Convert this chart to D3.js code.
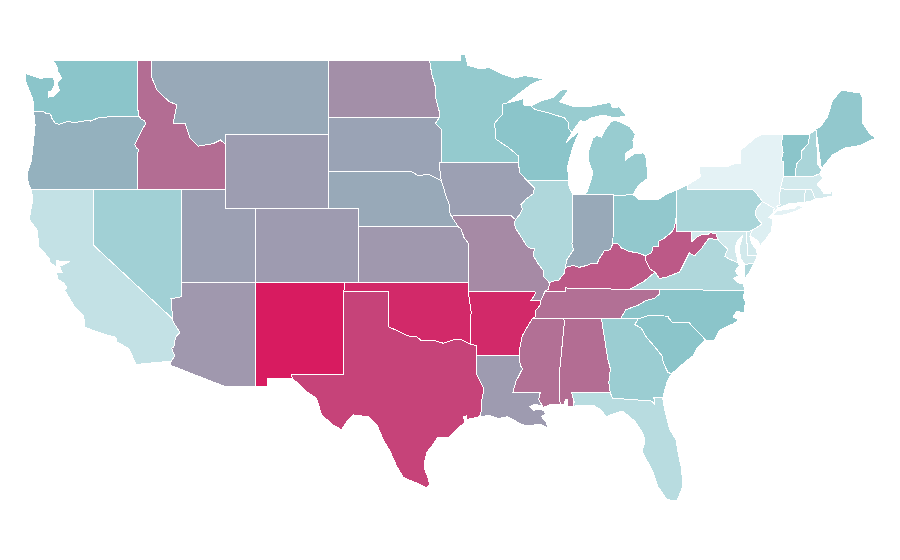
<!DOCTYPE html>
<html><head><meta charset="utf-8">
<script src="https://cdn.jsdelivr.net/npm/d3@7"></script>
<style>html,body{margin:0;background:#fff}svg{display:block}</style></head>
<body><svg id="map" width="900" height="560"></svg>
<script>
// state values (colour scale input)
const stateNames=["WA","OR","CA","NV","ID","MT","WY","UT","AZ","NM","CO","ND","SD","NE","KS","OK","TX","MN","IA","MO","AR","LA","WI","IL","MI","IN","OH","KY","TN","MS","AL","GA","FL","SC","NC","VA","WV","PA","NY","NJ","DE","MD","CT","RI","MA","VT","NH","ME"];
const stateValues=[40,47,15,30,71,50,54,53,56,100,55,59,52,50,56,95,86,36,53,61,95,55,40,24,34,50,37,78,70,70,71,33,20,40,40,24,78,26,0,3,8,8,9,9,7,40,26,37];
const colorDomain=[0,40,100];
const colorRange=["#e4f2f5","#8bc5ca","#d81b60"];
// shared borders, [lon,lat]
const wa_or=[[-124.05,46.27],[-123.5,46.27],[-123.2,46.15],[-122.9,46.1],[-122.8,45.85],[-122.6,45.62],[-122.3,45.55],[-121.8,45.7],[-121.2,45.65],[-120.6,45.74],[-120.2,45.73],[-119.6,45.92],[-119.1,45.93],[-118.98,46],[-116.92,46]];
const wa_id=[[-117.04,49],[-117.04,46.42],[-116.92,46.17],[-116.92,46]];
const waCoast=[[-124.05,46.27],[-124.1,46.9],[-124.35,47.4],[-124.6,47.9],[-124.63,48.32],[-123.62,48.05],[-123.05,48.08],[-122.7,48.12],[-122.62,47.7],[-122.85,47.35],[-123.07,47.3],[-123.07,47.03],[-122.7,47.05],[-122.3,47.4],[-122.45,47.7],[-122.4,47.85],[-122.15,48.05],[-122.4,48.4],[-122.5,48.75],[-122.76,49]];
const or_id=[[-116.92,46],[-116.78,45.85],[-116.55,45.75],[-116.46,45.6],[-116.67,45.3],[-116.85,45],[-117.2,44.45],[-117.05,44.23],[-116.95,44.2],[-117.03,43.83],[-117.03,42]];
const orCoast=[[-124.2,42],[-124.4,42.3],[-124.5,42.85],[-124.2,43.6],[-124.05,44.7],[-123.95,45.5],[-124.05,46.27]];
const mt_id=[[-116.05,49],[-116.05,48.1],[-115.7,47.4],[-114.9,46.8],[-114.36,46.6],[-114.6,45.6],[-113.8,45.6],[-113.45,44.8],[-112.9,44.37],[-111.9,44.5],[-111.4,44.7],[-111.05,44.47]];
const nd_mn=[[-97.23,49],[-97.1,48.3],[-96.85,47.6],[-96.8,46.9],[-96.6,46.3],[-96.56,45.94]];
const sd_mn=[[-96.56,45.94],[-96.85,45.6],[-96.45,45.3],[-96.45,43.5]];
const sd_ia=[[-96.45,43.5],[-96.6,43.5],[-96.45,42.49]];
const ne_sd=[[-104.05,43],[-98.5,43],[-98,42.77],[-97.3,42.85],[-96.7,42.6],[-96.45,42.49]];
const ne_ia=[[-96.45,42.49],[-96.25,42],[-96.1,41.6],[-95.9,41.2],[-95.85,40.7],[-95.77,40.58]];
const ne_mo=[[-95.77,40.58],[-95.3,40]];
const ia_mo=[[-95.77,40.58],[-91.73,40.61],[-91.42,40.38]];
const ia_wi=[[-91.22,43.5],[-91.15,42.95],[-90.65,42.51]];
const ia_il=[[-90.65,42.51],[-90.15,42.12],[-90.2,41.8],[-90.7,41.5],[-91.05,41.2],[-90.95,40.95],[-91.1,40.7],[-91.42,40.38]];
const mn_top=[[-97.23,49],[-95.15,49],[-95.15,49.38],[-94.82,49.3],[-94.65,48.75],[-93.8,48.55],[-93.2,48.63],[-92.4,48.3],[-91.5,48.05],[-90.8,48.2],[-89.5,48],[-90.3,47.75],[-91.2,47.2],[-92,46.7]];
const mn_wi=[[-92,46.7],[-92.3,46.65],[-92.3,46.1],[-92.85,45.6],[-92.75,45],[-92.75,44.75],[-92.2,44.45],[-91.9,44.3],[-91.25,43.85],[-91.22,43.5]];
const mo_il=[[-91.42,40.38],[-91.5,40.2],[-91.4,39.9],[-91,39.4],[-90.7,39],[-90.55,38.87],[-90.15,38.8],[-90.2,38.4],[-89.85,37.95],[-89.5,37.6],[-89.5,37.3],[-89.15,36.98]];
const mo_ky=[[-89.15,36.98],[-89.1,36.95],[-89.2,36.6],[-89.42,36.5]];
const mo_tn=[[-89.42,36.5],[-89.7,36]];
const mo_ar=[[-89.7,36],[-90.37,36],[-90.05,36.4],[-90.15,36.5],[-94.62,36.5]];
const ks_mo=[[-94.62,37],[-94.62,39.1],[-94.9,39.4],[-95.1,39.87],[-95.3,40]];
const ok_ar=[[-94.62,36.5],[-94.43,35.4],[-94.48,33.64]];
const ok_tx=[[-100,34.56],[-99.36,34.35],[-98.7,34.08],[-98.1,34.04],[-97.8,33.82],[-97,33.86],[-96.3,33.68],[-95.63,33.86],[-95.07,33.86],[-94.48,33.64]];
const ar_tn=[[-89.7,36],[-89.7,35.8],[-90.1,35.4],[-90.1,35.1],[-90.3,35]];
const ar_ms=[[-90.3,35],[-90.6,34.6],[-90.95,34.1],[-91.1,33.6],[-91.17,33]];
const tx_ar=[[-94.48,33.64],[-94.04,33.55],[-94.04,33.02]];
const tx_la=[[-94.04,33.02],[-94.04,32],[-93.8,31.6],[-93.55,31.2],[-93.7,30.6],[-93.7,30.1],[-93.85,29.7]];
const txCoast=[[-93.85,29.7],[-94.7,29.55],[-94.75,29.75],[-94.95,29.7],[-94.85,29.4],[-95.2,29.15],[-96,28.55],[-96.67,28.6],[-97.1,28.1],[-97.4,27.8],[-97.55,27.35],[-97.55,26.8],[-97.3,26.3],[-97.25,26],[-97.43,25.85],[-98.1,26.1],[-99,26.4],[-99.46,27],[-99.9,27.8],[-100.37,28.45],[-100.8,29.25],[-101.4,29.7],[-102.4,29.8],[-102.85,29.43],[-103.2,29],[-103.77,29.25],[-104.55,29.8],[-104.9,30.7],[-105.56,31.05],[-106,31.4],[-106.53,31.78],[-106.62,32]];
const la_ms=[[-91.17,33],[-91.1,32.5],[-90.95,32.3],[-91.4,31.6],[-91.6,31],[-89.75,31],[-89.85,30.65],[-89.55,30.2]];
const laCoast=[[-93.85,29.7],[-93.2,29.77],[-92.6,29.6],[-92,29.7],[-91.6,29.55],[-91.2,29.36],[-90.7,29.2],[-90.2,29.25],[-89.8,29.3],[-89.2,29.1],[-89.35,29.4],[-89.65,29.7],[-89.4,29.85],[-89.5,30.05],[-89.85,30.1],[-90.2,30.05],[-90.45,30.25],[-90.1,30.38],[-89.75,30.3],[-89.55,30.2]];
const msCoast=[[-89.55,30.2],[-89,30.38],[-88.4,30.35]];
const ms_al=[[-88.2,35],[-88.1,34.9],[-88.47,31.9],[-88.4,30.35]];
const alCoast=[[-87.52,30.28],[-87.9,30.25],[-87.9,30.65],[-88.05,30.65],[-88.1,30.4],[-88.4,30.35]];
const al_fl=[[-87.52,30.28],[-87.45,30.5],[-87.62,31],[-85,31]];
const al_ga=[[-85,31],[-85.1,31.55],[-85,32.3],[-85.18,32.87],[-85.6,35]];
const ga_sc=[[-83.11,35],[-83.35,34.7],[-82.9,34.5],[-82.55,34],[-82,33.5],[-81.5,33],[-81.4,32.6],[-81.1,32.1],[-80.85,32.03]];
const gaCoast=[[-80.85,32.03],[-81.15,31.6],[-81.3,31.2],[-81.45,30.72]];
const ga_fl=[[-81.45,30.72],[-82.05,30.75],[-82,30.37],[-82.2,30.55],[-84.86,30.71],[-85,31]];
const flCoast=[[-81.45,30.72],[-81.3,30],[-80.98,29],[-80.55,28.45],[-80.35,27.5],[-80.17,26.85],[-80.1,25.9],[-80.3,25.5],[-80.5,25.15],[-81.15,25.2],[-81.77,25.9],[-82.1,26.7],[-82.3,27],[-82.85,27.8],[-82.65,28.4],[-82.8,28.8],[-83.33,29.45],[-84.15,30],[-84.35,29.98],[-85.3,29.7],[-85.6,30.05],[-86.1,30.3],[-87.52,30.28]];
const sc_nc=[[-83.11,35],[-82.4,35.2],[-81.05,35.15],[-81.05,35.05],[-80.8,34.82],[-79.67,34.8],[-78.55,33.86]];
const scCoast=[[-78.55,33.86],[-79.1,33.45],[-79.4,33],[-79.9,32.7],[-80.45,32.3],[-80.85,32.03]];
const ncCoast=[[-75.87,36.55],[-76,36.2],[-75.85,35.95],[-75.95,35.35],[-76.45,35.4],[-76.7,35.1],[-76.3,34.95],[-76.65,34.75],[-77.6,34.4],[-77.95,33.85],[-78.55,33.86]];
const tn_nc=[[-81.68,36.59],[-81.7,36.33],[-82.05,36.1],[-82.6,36],[-83.1,35.75],[-83.95,35.5],[-84.32,35]];
const tn_ky=[[-89.42,36.5],[-88.05,36.5],[-88.05,36.68],[-83.68,36.6]];
const ky_il=[[-89.15,36.98],[-88.6,37.1],[-88.5,37.1],[-88.1,37.5],[-88.05,37.8]];
const ky_in=[[-88.05,37.8],[-87.5,37.9],[-87.1,37.8],[-86.6,37.9],[-86.3,38],[-85.9,38],[-85.75,38.27],[-85.4,38.7],[-85,38.75],[-84.83,39.1]];
const ky_oh=[[-84.83,39.1],[-84.5,39.1],[-84.25,38.85],[-83.7,38.65],[-83.2,38.6],[-82.6,38.42]];
const ky_wv=[[-82.6,38.42],[-82.6,38.15],[-82.3,37.7],[-81.97,37.54]];
const ky_va=[[-81.97,37.54],[-82.7,37.05],[-83.68,36.6]];
const il_in=[[-87.53,41.72],[-87.53,39.35],[-87.6,39.1],[-87.5,38.75],[-87.95,38.2],[-88.05,37.8]];
const in_oh=[[-84.8,41.7],[-84.82,39.1],[-84.83,39.1]];
const oh_wv=[[-80.52,40.64],[-80.65,40],[-80.85,39.7],[-81.4,39.35],[-81.75,39.2],[-81.75,38.95],[-82.1,38.95],[-82.2,38.6],[-82.6,38.42]];
const ohLake=[[-83.45,41.73],[-83,41.45],[-82.7,41.45],[-82,41.5],[-81.7,41.5],[-81.2,41.77],[-80.52,41.98]];
const wv_md=[[-79.48,39.72],[-79.48,39.2],[-79.1,39.45],[-78.75,39.6],[-78.45,39.55],[-78.2,39.68],[-77.85,39.6],[-77.72,39.32]];
const va_wv=[[-81.97,37.54],[-81.68,37.2],[-81.25,37.25],[-80.3,37.55],[-79.65,38.58],[-79.3,38.42],[-78.85,38.8],[-78.35,39.35],[-77.72,39.32]];
const va_md=[[-77.72,39.32],[-77.5,39.1],[-77.05,38.8],[-77.25,38.4],[-76.95,38.25],[-76.35,38.05]];
const vaCoast=[[-76.35,38.05],[-76.25,37.9],[-76.55,37.6],[-76.3,37.35],[-76.65,37.2],[-76.3,36.95],[-76,36.9],[-75.87,36.55]];
const vaShore=[[-75.25,38.03],[-75.9,37.95],[-75.95,37.15],[-75.6,37.5]];
const mdEast=[[-75.05,38.45],[-75.25,38.03],[-75.9,37.95],[-76.2,38.3],[-76.25,38.9],[-76.05,39.5],[-76.4,39.25],[-76.55,38.8],[-76.4,38.3],[-76.35,38.05]];
const deCoast=[[-75.41,39.8],[-75.55,39.45],[-75.4,39.05],[-75.1,38.78],[-75.05,38.45]];
const pa_ny=[[-75.35,42],[-75.05,41.75],[-74.7,41.36]];
const pa_nj=[[-74.7,41.36],[-75.1,41],[-75.2,40.7],[-75.05,40.45],[-74.72,40.15],[-75.1,39.95],[-75.41,39.8]];
const njCoast=[[-74.7,41.36],[-73.9,41],[-74,40.7],[-74.25,40.5],[-74,40.4],[-74.1,39.75],[-74.5,39.3],[-74.9,38.93],[-74.95,39.2],[-75.5,39.5],[-75.55,39.65],[-75.41,39.8]];
const nyLake=[[-79.76,42.27],[-78.9,42.7],[-79,43.25],[-77.7,43.25],[-77,43.28],[-76.5,43.45],[-76.2,43.45],[-76.2,44.15],[-75.8,44.4],[-75.1,44.87],[-74.7,45],[-73.34,45.01]];
const ny_vt=[[-73.34,45.01],[-73.4,44.5],[-73.3,44],[-73.43,43.6],[-73.25,43.5],[-73.27,42.75]];
const ny_ct=[[-73.5,42.05],[-73.55,41.3],[-73.48,41.2],[-73.73,41.1],[-73.65,41]];
const longIsland=[[-74,40.6],[-73.75,40.85],[-73.1,40.95],[-72.6,40.98],[-72.3,41.15],[-71.9,41.07],[-72.5,40.82],[-73.3,40.63]];
const vt_nh=[[-71.5,45.01],[-71.6,44.5],[-72.05,44.1],[-72.05,43.7],[-72.4,43.4],[-72.45,43],[-72.46,42.73]];
const nh_me=[[-71.08,45.3],[-70.95,43.6],[-70.98,43.4],[-70.7,43.08]];
const nh_ma=[[-70.82,42.87],[-71.25,42.74],[-72.46,42.73]];
const meCoast=[[-71.08,45.3],[-70.8,45.4],[-70.3,45.95],[-69.95,46.87],[-69.33,47.4],[-68.1,47.25],[-67.9,46.98],[-67.9,45.6],[-67.45,45.06],[-67.05,44.8],[-68.1,44.4],[-69.1,44.27],[-69.95,43.9],[-70.25,43.6],[-70.6,43.24],[-70.7,43.08]];
const maCoast=[[-70.82,42.87],[-70.6,42.65],[-71,42.3],[-70.65,41.95],[-70.55,41.78],[-70.1,41.78],[-70,42.05],[-69.95,41.67],[-70.65,41.55],[-71.12,41.5]];
const ma_ri=[[-71.12,41.5],[-71.2,41.67],[-71.38,42.02],[-71.8,42.02]];
const riCoast=[[-71.12,41.5],[-71.5,41.37],[-71.86,41.32],[-71.8,42.02]];
const ctCoast=[[-71.86,41.32],[-72.9,41.25],[-73.65,41]];
const wiLake=[[-92,46.7],[-91.2,46.87],[-90.9,46.95],[-90.85,46.6],[-90.4,46.55]];
const wi_mi=[[-90.4,46.55],[-90.1,46.35],[-89.1,46.15],[-88.1,45.9],[-87.8,45.6],[-87.85,45.35],[-87.6,45.1]];
const wiCoast=[[-87.6,45.1],[-88,44.55],[-87.05,45.25],[-87.5,44.4],[-87.75,43.7],[-87.9,43.2],[-87.8,42.49]];
const miUpper=[[-90.4,46.55],[-89.6,46.85],[-88.9,47],[-88.4,47.4],[-87.8,47.45],[-88.2,47],[-88.45,46.78],[-87.4,46.5],[-86.5,46.5],[-85,46.75],[-84.85,46.45],[-84.4,46.5],[-84.1,46.2],[-83.9,46],[-84.7,45.9],[-85.5,46.05],[-86.3,45.9],[-86.7,45.7],[-87.05,45.75],[-87.6,45.1]];
const miLower=[[-86.85,41.76],[-86.6,41.85],[-86.17,42.9],[-86.5,43.6],[-86.5,44],[-86.17,44.8],[-85.9,44.95],[-85.6,44.85],[-85.35,45.25],[-85,45.65],[-84.75,45.78],[-84.2,45.63],[-83.67,45.4],[-83.3,45],[-83.47,44.7],[-83.4,44.3],[-84,43.95],[-84,43.6],[-83.4,43.95],[-82.8,44],[-82.6,43.85],[-82.47,42.9],[-82.5,42.6],[-83.1,42.25],[-83.45,41.73],[-84.8,41.7],[-84.8,41.76]];
const caCoast=[[-117.12,32.53],[-117.6,33.4],[-118.4,33.75],[-118.5,34.02],[-119.2,34.15],[-120.6,34.55],[-120.65,35.15],[-121.3,35.7],[-121.95,36.55],[-121.8,36.7],[-122,36.95],[-122.4,37.15],[-122.5,37.5],[-122.1,37.5],[-122.3,37.85],[-121.6,38.1],[-122.5,38.15],[-122.5,37.82],[-122.95,38.05],[-123,38.3],[-123.7,38.9],[-123.8,39.8],[-124.35,40.4],[-124.1,41.5],[-124.2,42]];
const ca_az=[[-114.63,35],[-114.6,34.85],[-114.15,34.27],[-114.45,34],[-114.55,33.5],[-114.7,33.4],[-114.5,33],[-114.72,32.72]];
const nv_az=[[-114.63,35],[-114.75,36.1],[-114.05,36.2],[-114.04,37]];

const rev=a=>a.slice().reverse();
const ring=(...s)=>s.flat();
const box=(a,b,c,d)=>[[a,b],[c,b],[c,d],[a,d]];
const shapes={
WA:[ring([[-122.76,49]],wa_id,rev(wa_or),waCoast)],
OR:[ring(wa_or,or_id,[[-124.2,42]],orCoast)],
CA:[ring([[-124.2,42],[-120,42],[-120,39]],ca_az,caCoast)],
NV:[ring([[-120,42],[-114.04,42]],rev(nv_az),[[-120,39]])],
ID:[ring(mt_id,[[-111.05,42],[-117.03,42]],rev(or_id),rev(wa_id))],
MT:[ring(mt_id,[[-111.05,45],[-104.05,45],[-104.05,49]])],
WY:[box(-111.05,45,-104.05,41)],
UT:[ring([[-114.04,42],[-111.05,42],[-111.05,41],[-109.05,41],[-109.05,37],[-114.04,37]])],
AZ:[ring([[-109.05,37],[-109.05,31.33],[-111.07,31.33],[-114.82,32.5]],rev(ca_az),nv_az)],
NM:[ring([[-109.05,37],[-103,37],[-103.04,36.5],[-103.06,32],[-106.62,32],[-106.53,31.78],[-108.2,31.78],[-108.2,31.33],[-109.05,31.33]])],
CO:[box(-109.05,41,-102.05,37)],
ND:[ring(nd_mn,[[-104.05,45.94],[-104.05,49]])],
SD:[ring([[-104.05,45.94]],sd_mn,sd_ia,rev(ne_sd))],
NE:[ring(ne_sd,ne_ia,ne_mo,[[-102.05,40],[-102.05,41],[-104.05,41]])],
KS:[ring([[-102.05,40],[-95.3,40]],rev(ks_mo),[[-102.05,37]])],
OK:[ring([[-103,37],[-94.62,37]],ok_ar,rev(ok_tx),[[-100,36.5],[-103.04,36.5]])],
TX:[ring([[-103.04,36.5],[-100,36.5]],ok_tx,tx_ar,tx_la,txCoast,[[-103.06,32]])],
MN:[ring(mn_top,mn_wi,[[-96.45,43.5]],rev(sd_mn),rev(nd_mn))],
IA:[ring([[-96.45,43.5]],ia_wi,ia_il,rev(ia_mo),rev(ne_ia),rev(sd_ia))],
MO:[ring(ia_mo,mo_il,mo_ky,mo_tn,mo_ar,ks_mo,rev(ne_mo))],
AR:[ring(rev(mo_ar),ar_tn,ar_ms,rev(tx_ar),rev(ok_ar))],
LA:[ring(la_ms,rev(laCoast),rev(tx_la))],
WI:[ring(wiLake,wi_mi,wiCoast,[[-90.65,42.51]],rev(ia_wi),rev(mn_wi))],
IL:[ring([[-90.65,42.51],[-87.8,42.49],[-87.8,42.2]],il_in,rev(ky_il),rev(mo_il),rev(ia_il))],
MI:[miLower,ring(miUpper,rev(wi_mi))],
IN:[ring([[-87.53,41.72],[-87.2,41.75],[-86.85,41.76],[-84.8,41.76]],in_oh,rev(ky_in),rev(il_in))],
OH:[ring([[-84.8,41.7]],ohLake,oh_wv,rev(ky_oh),rev(in_oh))],
KY:[ring(rev(mo_ky),ky_il,ky_in,ky_oh,ky_wv,ky_va,rev(tn_ky))],
TN:[ring(tn_ky,tn_nc,[[-85.6,35],[-88.2,35]],rev(ar_tn),rev(mo_tn))],
MS:[ring([[-90.3,35]],ms_al,rev(msCoast),rev(la_ms),rev(ar_ms))],
AL:[ring([[-88.2,35]],rev(al_ga),rev(al_fl),alCoast,rev(ms_al))],
GA:[ring(al_ga,[[-84.32,35]],ga_sc,gaCoast,ga_fl)],
FL:[ring(rev(ga_fl),flCoast,al_fl)],
SC:[ring(sc_nc,scCoast,rev(ga_sc))],
NC:[ring([[-81.68,36.59]],ncCoast,rev(sc_nc),[[-84.32,35]],rev(tn_nc))],
VA:[ring(rev(ky_va),va_wv,va_md,vaCoast,[[-81.68,36.59]]),vaShore],
WV:[ring(oh_wv,ky_wv,va_wv,rev(wv_md),[[-80.52,39.72]])],
PA:[ring([[-80.52,41.98],[-79.76,42.27],[-79.76,42]],pa_ny,pa_nj,[[-75.79,39.72],[-80.52,39.72]])],
NY:[ring(nyLake,ny_vt,[[-73.5,42.05]],ny_ct,[[-73.95,40.75],[-73.9,41]],rev(pa_ny),[[-79.76,42]]),longIsland],
NJ:[ring(njCoast,rev(pa_nj))],
DE:[ring([[-75.79,39.72]],deCoast,[[-75.7,38.46]])],
MD:[ring([[-79.48,39.72],[-75.79,39.72],[-75.7,38.46]],mdEast,rev(va_md),rev(wv_md))],
CT:[ring([[-71.8,42.02]],ctCoast,rev(ny_ct))],
RI:[ring(rev(ma_ri),riCoast.slice(1,3))],
MA:[ring([[-73.27,42.75]],rev(nh_ma),maCoast,ma_ri,[[-73.5,42.05]])],
VT:[ring([[-73.34,45.01]],vt_nh,rev(ny_vt))],
NH:[ring(vt_nh,rev(nh_ma).slice(1),[[-70.7,43.08]],rev(nh_me))],
ME:[meCoast]
};
const x=d3.scaleLinear().domain([-117.03,-66.97]).range([137.3,876.6]);
const y=d3.scaleLinear().domain([49,25.1]).range([60.7,501.6]);
const path=d3.geoPath(d3.geoTransform({point(a,b){this.stream.point(x(a),y(b));}}));
const color=d3.scaleLinear().domain(colorDomain).range(colorRange);
const features=stateNames.map((n,i)=>({type:"Feature",id:n,properties:{value:stateValues[i]},
  geometry:{type:"MultiPolygon",coordinates:shapes[n].map(r=>[r.concat([r[0]])])}}));
d3.select("#map").selectAll("path").data(features).join("path")
  .attr("d",path).attr("fill",d=>color(d.properties.value))
  .attr("stroke","#fff").attr("stroke-width",1).attr("shape-rendering","crispEdges");
</script></body></html>
